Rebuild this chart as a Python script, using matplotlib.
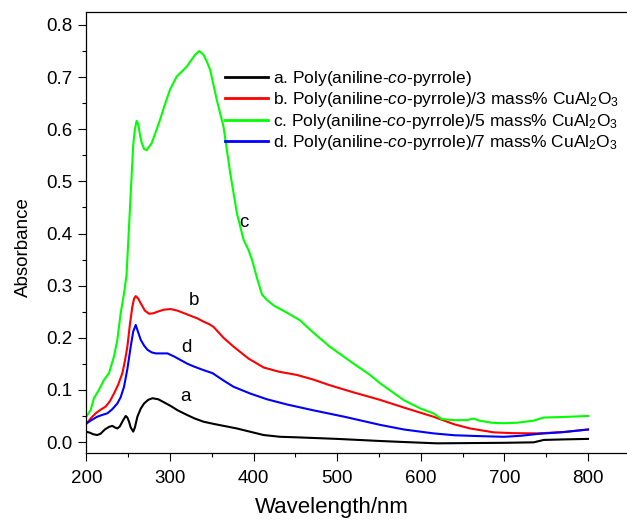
import matplotlib
matplotlib.use("Agg")
import matplotlib.pyplot as plt
from matplotlib.ticker import MultipleLocator, FormatStrFormatter

plt.rcParams['font.family'] = ['Liberation Sans', 'DejaVu Sans']
plt.rcParams['mathtext.fontset'] = 'custom'
plt.rcParams['mathtext.rm'] = 'Liberation Sans'
plt.rcParams['mathtext.it'] = 'Liberation Sans:italic'

# ---- data ----
wl_a = [199, 204, 208, 213, 217, 222, 227, 231, 234, 237, 240, 244, 247, 249, 251, 253, 256, 258,
        261, 265, 269, 274, 279, 286, 293, 301, 309, 319, 329, 340, 353, 380, 412, 432, 452, 500,
        551, 580, 619, 660, 700, 735, 747, 770, 800]
abs_a = [0.020, 0.018, 0.015, 0.0134, 0.016, 0.024, 0.029, 0.031, 0.028, 0.026, 0.030, 0.042, 0.050,
         0.047, 0.039, 0.028, 0.020, 0.028, 0.0486, 0.064, 0.074, 0.081, 0.084, 0.082, 0.076, 0.069,
         0.061, 0.053, 0.0455, 0.039, 0.0345, 0.026, 0.0134, 0.010, 0.009, 0.006, 0.002, 0.0,
         -0.0025, -0.002, -0.0015, -0.0006, 0.004, 0.005, 0.006]

wl_b = [199, 205, 211, 217, 223, 228, 233, 238, 243, 246, 249, 252, 255, 257, 259, 262, 265, 270,
        275, 280, 285, 293, 301, 309, 317, 325, 333, 340, 347, 352, 364, 376, 394, 412, 430, 452,
        471, 491, 520, 551, 580, 615, 640, 659, 687, 710, 739, 770, 800]
abs_b = [0.033, 0.045, 0.055, 0.062, 0.068, 0.078, 0.093, 0.110, 0.132, 0.155, 0.183, 0.225, 0.260,
         0.275, 0.280, 0.275, 0.266, 0.252, 0.246, 0.247, 0.250, 0.254, 0.255, 0.252, 0.247, 0.242,
         0.237, 0.231, 0.226, 0.221, 0.200, 0.183, 0.160, 0.143, 0.135, 0.1286, 0.120, 0.109, 0.095,
         0.081, 0.066, 0.0486, 0.034, 0.026, 0.0186, 0.017, 0.0166, 0.019, 0.024]

wl_c = [200, 205, 209, 215, 221, 227, 233, 237, 241, 245, 248, 252, 256, 258, 260, 262, 264, 266,
        269, 272, 278, 283, 288, 294, 300, 308, 320, 330, 335, 340, 344, 348, 356, 364, 372, 380,
        388, 394, 398, 404, 410, 416, 424, 440, 455, 470, 491, 505, 519, 539, 551, 580, 600, 615,
        625, 640, 655, 663, 670, 685, 699, 715, 735, 747, 770, 800]
abs_c = [0.049, 0.061, 0.084, 0.100, 0.119, 0.132, 0.164, 0.196, 0.247, 0.285, 0.320, 0.445, 0.570,
         0.600, 0.616, 0.610, 0.590, 0.575, 0.562, 0.560, 0.573, 0.595, 0.618, 0.648, 0.676, 0.701,
         0.720, 0.743, 0.750, 0.743, 0.730, 0.714, 0.656, 0.605, 0.516, 0.439, 0.388, 0.368, 0.350,
         0.315, 0.283, 0.2726, 0.262, 0.248, 0.234, 0.212, 0.183, 0.167, 0.151, 0.129, 0.113, 0.080,
         0.064, 0.055, 0.044, 0.042, 0.042, 0.045, 0.041, 0.037, 0.036, 0.037, 0.041, 0.047, 0.048,
         0.050]

wl_d = [199, 206, 213, 219, 225, 231, 237, 241, 245, 249, 253, 256, 259, 262, 265, 269, 273, 278,
        283, 290, 297, 305, 313, 321, 329, 340, 351, 364, 376, 396, 416, 440, 471, 510, 551, 580,
        615, 640, 667, 699, 720, 739, 770, 800]
abs_d = [0.0345, 0.042, 0.0486, 0.052, 0.055, 0.063, 0.074, 0.086, 0.106, 0.140, 0.183, 0.212,
         0.2246, 0.210, 0.196, 0.185, 0.177, 0.172, 0.170, 0.170, 0.170, 0.164, 0.157, 0.150, 0.1446,
         0.138, 0.132, 0.118, 0.106, 0.093, 0.082, 0.072, 0.061, 0.048, 0.033, 0.024, 0.0166, 0.013,
         0.0115, 0.010, 0.012, 0.0154, 0.019, 0.024]

labels = [r'a. Poly(aniline-$\mathit{co}$-pyrrole)',
          r'b. Poly(aniline-$\mathit{co}$-pyrrole)/3 mass% CuAl$_2$O$_3$',
          r'c. Poly(aniline-$\mathit{co}$-pyrrole)/5 mass% CuAl$_2$O$_3$',
          r'd. Poly(aniline-$\mathit{co}$-pyrrole)/7 mass% CuAl$_2$O$_3$']
colors = ['#000000', '#ff0000', '#00ff00', '#0000ff']
curve_tags = ['a', 'b', 'c', 'd']
tag_pos_x = [318, 329, 388, 320]
tag_pos_y = [0.087, 0.272, 0.422, 0.182]

fig = plt.figure(figsize=(6.27, 5.2), dpi=100)
ax = fig.add_axes([0.1378, 0.1288, 0.8667, 0.8482])

series = [(wl_a, abs_a), (wl_b, abs_b), (wl_c, abs_c), (wl_d, abs_d)]
for (x, y), c, lab in zip(series, colors, labels):
    ax.plot(x, y, color=c, lw=1.5, label=lab)

for t, x, y in zip(curve_tags, tag_pos_x, tag_pos_y):
    ax.text(x, y, t, fontsize=13.5, ha='center', va='center')

ax.set_xlim(200, 850)
ax.set_ylim(-0.0211, 0.825)
ax.xaxis.set_major_locator(MultipleLocator(100))
ax.xaxis.set_minor_locator(MultipleLocator(50))
ax.yaxis.set_major_locator(MultipleLocator(0.1))
ax.yaxis.set_minor_locator(MultipleLocator(0.05))
ax.yaxis.set_major_formatter(FormatStrFormatter('%.1f'))
ax.set_xticks([200, 300, 400, 500, 600, 700, 800])
ax.tick_params(which='major', direction='out', length=6, width=0.8, labelsize=13.5, pad=4)
ax.tick_params(which='minor', direction='out', length=3, width=0.8)
ax.tick_params(axis='x', which='major', pad=6.5)
for s in ['left', 'bottom', 'top']:
    ax.spines[s].set_linewidth(0.9)
ax.spines['right'].set_visible(False)

ax.set_xlabel('Wavelength/nm', fontsize=16)
ax.set_ylabel('Absorbance', fontsize=13.5)
ax.xaxis.set_label_coords(0.452, -0.10)
ax.yaxis.set_label_coords(-0.10, 0.467)

leg = ax.legend(loc='upper left', bbox_to_anchor=(0.255, 0.871), frameon=False, fontsize=12.5,
                handlelength=2.47, handletextpad=0.3, labelspacing=0.14, borderaxespad=0,
                borderpad=0)
for h in leg.get_lines():
    h.set_linewidth(2)

fig.savefig('out.png', dpi=100)
